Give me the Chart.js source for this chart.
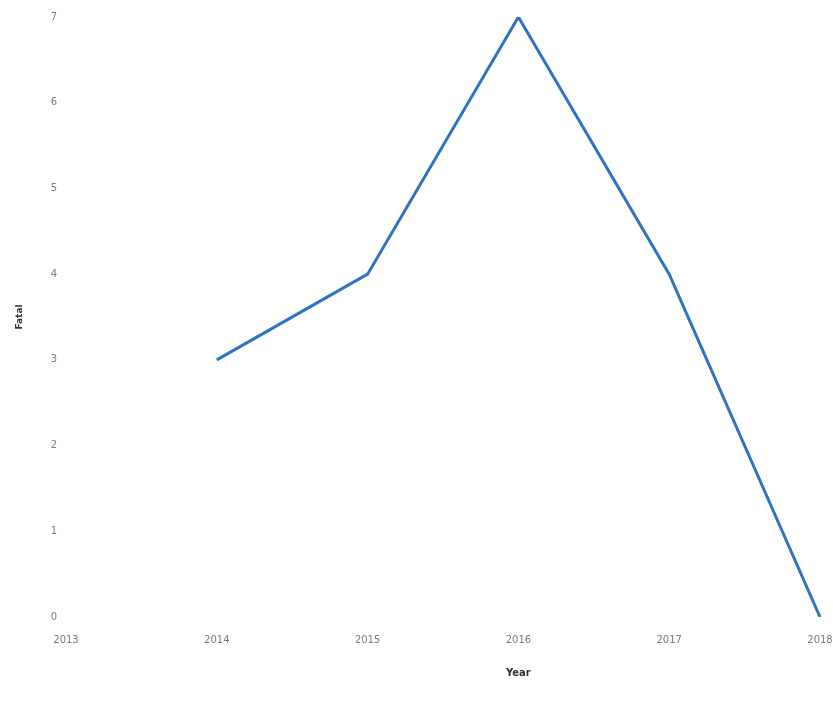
<!DOCTYPE html>
<html>
<head>
<meta charset="utf-8">
<script src="https://cdn.jsdelivr.net/npm/chart.js@4/dist/chart.umd.min.js"></script>
<style>
  html, body { margin: 0; padding: 0; background: #fff; }
  #wrap { width: 833px; height: 709px; }
</style>
</head>
<body>
<div id="wrap"><canvas id="chart"></canvas></div>
<script>
const years = ['2013', '2014', '2015', '2016', '2017', '2018'];
const fatal = [null, 3, 4, 7, 4, 0];
const yTicks = [0, 1, 2, 3, 4, 5, 6, 7];
const xTitle = 'Year';

// x title sits under the 2016 label in the original, not centred on the axis
const xTitlePlugin = {
    id: 'xTitle',
    afterDraw(chart) {
        const x = chart.scales.x;
        const ctx = chart.ctx;
        ctx.save();
        ctx.font = 'bold 10px "DejaVu Sans"';
        ctx.fillStyle = '#333';
        ctx.textAlign = 'center';
        ctx.textBaseline = 'middle';
        ctx.fillText(xTitle, x.getPixelForValue(3), x.top + 56);
        ctx.restore();
    }
};

new Chart(document.getElementById('chart'), {
    type: 'line',
    data: {
        labels: years,
        datasets: [{
            label: 'Fatal',
            data: fatal,
            borderColor: '#2e73c2',
            borderWidth: 3,
            pointRadius: 0,
            tension: 0,
            fill: false
        }]
    },
    options: {
        responsive: true,
        maintainAspectRatio: false,
        animation: false,
        layout: { padding: { top: 17, right: 13, left: 10, bottom: 4 } },
        plugins: { legend: { display: false }, tooltip: { enabled: false } },
        scales: {
            x: {
                offset: false,
                grid: { display: false, drawTicks: false },
                border: { display: false },
                ticks: { color: '#7a7a7a', font: { family: 'DejaVu Sans', size: 10 }, padding: 17, maxRotation: 0 },
                afterFit: function (s) { s.height = 88; s.paddingLeft = 0; s.paddingRight = 0; }
            },
            y: {
                min: 0,
                max: 7,
                afterBuildTicks: function (s) { s.ticks = yTicks.map(v => ({ value: v })); },
                grid: { display: false, drawTicks: false },
                border: { display: false },
                ticks: { color: '#7a7a7a', font: { family: 'DejaVu Sans', size: 10 }, padding: 9 },
                title: { display: true, text: 'Fatal', color: '#333', font: { family: 'DejaVu Sans', size: 9, weight: 'bold' } },
                afterFit: function (s) { s.width = 56; }
            }
        }
    },
    plugins: [xTitlePlugin]
});
</script>
</body>
</html>
